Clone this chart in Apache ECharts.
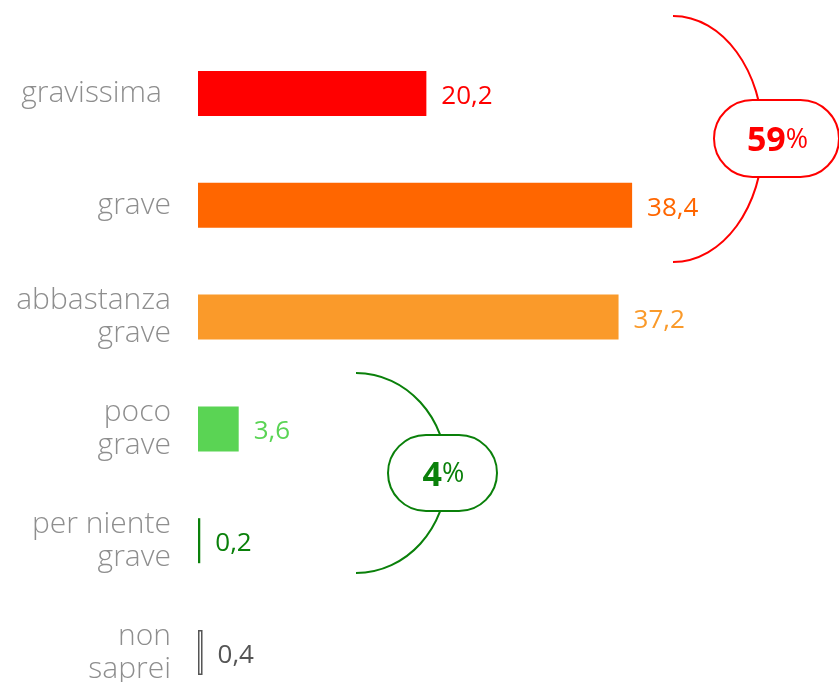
<!DOCTYPE html>
<html>
<head>
<meta charset="utf-8">
<script src="https://cdn.jsdelivr.net/npm/echarts@6/dist/echarts.min.js"></script>
<style>
  html, body { margin: 0; padding: 0; background: #fff; }
  #main { width: 839px; height: 682px; }
</style>
</head>
<body>
<div id="main"></div>
<script>
// categorie e valori (%)
var categories = ["gravissima", "grave", "abbastanza\ngrave", "poco\ngrave", "per niente\ngrave", "non\nsaprei"];
var values = [20.2, 38.4, 37.2, 3.6, 0.2, 0.4];
var barColors = ["#ff0000", "#ff6600", "#fa9a2a", "#5ad454", "#0a800a", "#ffffff"];
var labelColors = ["#ff0000", "#ff6600", "#fa9a2a", "#5ad454", "#0a800a", "#555555"];
// raggruppamenti
var groupLabels = ["59", "4"];

var chart = echarts.init(document.getElementById("main"));

var seriesData = values.map(function (v, i) {
  var item = { value: v, itemStyle: { color: barColors[i] }, label: { color: labelColors[i] } };
  if (i === 5) {
    item.itemStyle.borderColor = "#555";
    item.itemStyle.borderWidth = 1.5;
  }
  return item;
});

// parentesi a semi-ellisse (solo annotazione)
function bracket(cx, cy, rx, ry, color) {
  var k = 0.5523;
  var st = { stroke: color, lineWidth: 2, fill: null };
  return [
    { type: "bezierCurve", z: 10, shape: { x1: cx, y1: cy - ry, x2: cx + rx, y2: cy, cpx1: cx + k * rx, cpy1: cy - ry, cpx2: cx + rx, cpy2: cy - k * ry }, style: st },
    { type: "bezierCurve", z: 10, shape: { x1: cx + rx, y1: cy, x2: cx, y2: cy + ry, cpx1: cx + rx, cpy1: cy + k * ry, cpx2: cx + k * rx, cpy2: cy + ry }, style: st }
  ];
}
function pill(x, y, w, h, color, txt) {
  return [
    { type: "rect", z: 11, shape: { x: x, y: y, width: w, height: h, r: h / 2 }, style: { fill: "#fff", stroke: color, lineWidth: 2 } },
    {
      type: "text", z: 12, x: x + w / 2 + 1, y: y + h / 2,
      style: {
        text: "{a|" + txt + "}{b|%}",
        align: "center", verticalAlign: "middle",
        rich: {
          a: { fontFamily: "Open Sans", fontWeight: "bold", fontSize: 34, fill: color, lineHeight: 40, verticalAlign: "bottom" },
          b: { fontFamily: "Open Sans", fontSize: 27, fill: color, lineHeight: 40, verticalAlign: "bottom", padding: [0, 0, 5, 0] }
        }
      }
    }
  ];
}

var graphics = []
  .concat(bracket(673, 139, 90, 123, "#ff0000"))
  .concat(pill(714, 100, 125, 77, "#ff0000", groupLabels[0]))
  .concat(bracket(356, 473, 91, 100, "#0a800a"))
  .concat(pill(388, 435, 109, 76, "#0a800a", groupLabels[1]));

chart.setOption({
  animation: false,
  grid: { left: 198, top: 93.5, width: 641, height: 559, outerBoundsMode: "none" },
  xAxis: {
    type: "value", min: 0, max: 56.7, show: false
  },
  yAxis: {
    type: "category",
    data: categories,
    inverse: true,
    boundaryGap: false,
    axisLine: { show: false },
    axisTick: { show: false },
    axisLabel: {
      margin: 27,
      color: "#8e8e8e",
      fontFamily: "Open Sans",
      fontWeight: 300,
      fontSize: 30,
      lineHeight: 33,
      align: "right",
      formatter: function (v, i) {
        return i === 0 ? "{g|" + v + "}" : v;
      },
      rich: {
        g: { color: "#8e8e8e", fontFamily: "Open Sans", fontWeight: 300, fontSize: 30, padding: [0, 9, 0, 0] }
      }
    },
    splitLine: { show: false }
  },
  series: [{
    type: "bar",
    barWidth: 45,
    clip: false,
    data: seriesData,
    label: {
      show: true,
      position: "right",
      distance: 15,
      offset: [0, 3],
      fontFamily: "Open Sans",
      fontSize: 26,
      formatter: function (p) { return String(p.value).replace(".", ","); }
    }
  }],
  graphic: graphics
});
</script>
</body>
</html>
